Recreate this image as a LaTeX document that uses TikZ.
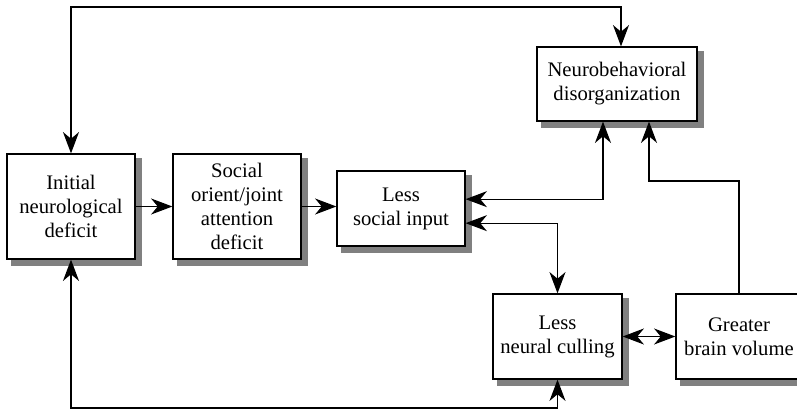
\documentclass[tikz,border=0pt]{standalone}
\usepackage{fontspec}
\setmainfont{Liberation Serif}
\usetikzlibrary{arrows.meta,calc}

\tikzset{every picture/.style={line width=0.9pt}}
\tikzset{
  box/.style={draw, fill=white, inner sep=0pt, align=center,
    font=\fontsize{15.5}{18}\selectfont},
  boxshadow/.style={fill=gray, draw=none},
}

\begin{document}
\begin{tikzpicture}[x=0.75pt,y=0.75pt,yscale=-1,xscale=1,>={Stealth[length=16pt,width=12pt,inset=5pt]}]
\useasboundingbox (0,0) rectangle (797,410);

%Shape: Rectangle [id:init]
\node [box, minimum width=96pt, minimum height=78.75pt] (init) at (71,206.5) {Initial\\neurological\\deficit};
%Shape: Rectangle [id:social]
\node [box, minimum width=96pt, minimum height=78.75pt] (social) at (237,206.5) {Social\\orient/joint\\attention\\deficit};
%Shape: Rectangle [id:input]
\node [box, minimum width=96pt, minimum height=56.25pt] (input) at (401,208.5) {Less\\social input};
%Shape: Rectangle [id:neuro]
\node [box, minimum width=120pt, minimum height=55.5pt] (neuro) at (617,84) {Neurobehavioral\\disorganization};
%Shape: Rectangle [id:cull]
\node [box, minimum width=96.75pt, minimum height=63.75pt] (cull) at (557.5,336.5) {Less\\neural culling};
%Shape: Rectangle [id:brain]
\node [box, minimum width=94.5pt, minimum height=63.75pt] (brain) at (739,336.5) {Greater\\brain volume};

% shadow strips, right and bottom of each box
\foreach \b in {init,social,input,neuro,cull,brain}{
  \fill [boxshadow] ($(\b.north east)+(0.5,5)$) rectangle ($(\b.south east)+(6,6)$);
  \fill [boxshadow] ($(\b.south west)+(5,0.5)$) rectangle ($(\b.south east)+(6,6)$);
}

\coordinate (top) at (0,7);
\coordinate (bot) at (0,408);
\coordinate (knee) at (649,181);

%Straight Lines [id:loop top]
\draw [<->] (init.north) -- (init.north |- top) -| ([xshift=3pt]neuro.north);
%Straight Lines [id:loop bottom]
\draw [<->] (init.south) -- (init.south |- bot) -| (cull.south);
%Straight Lines [id:init-social]
\draw [->] (init.east) -- (social.east -| social.west);
%Straight Lines [id:social-input]
\draw [->] (social.east) -- (social.east -| input.west);
%Straight Lines [id:input-neuro]
\draw [<->] ([yshift=-7pt]input.east) -| ([xshift=-10.5pt]neuro.south);
%Straight Lines [id:input-cull]
\draw [<->] ([yshift=11pt]input.east) -| (cull.north);
%Straight Lines [id:cull-brain]
\draw [<->] (cull.east) -- (brain.west);
%Straight Lines [id:brain-neuro]
\draw [->] (brain.north) |- (knee) -- (knee |- neuro.south);

\end{tikzpicture}
\end{document}
